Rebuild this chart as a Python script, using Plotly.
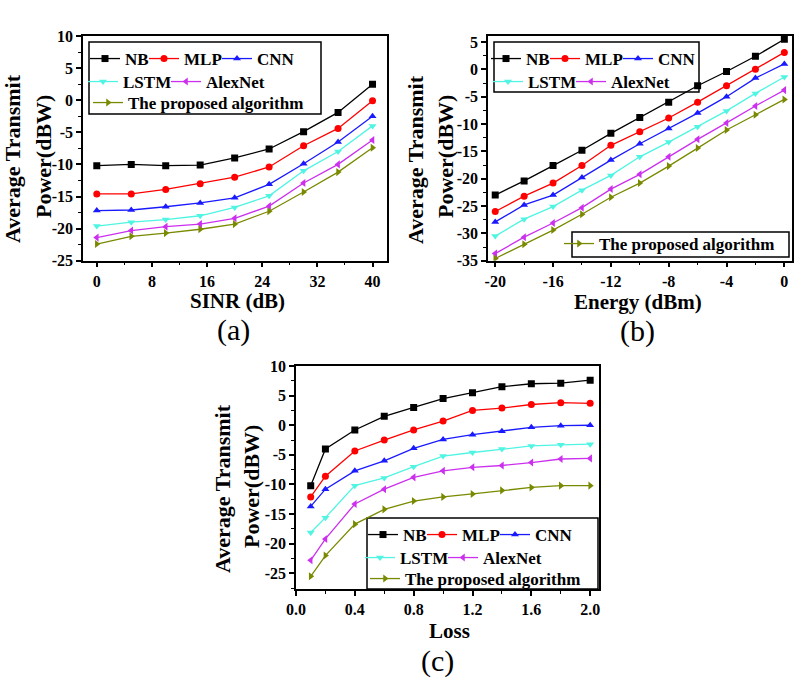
import plotly.graph_objects as go

W, H = 812, 679

# ---------------- data ----------------
series_names = ["NB", "MLP", "CNN", "LSTM", "AlexNet", "The proposed algorithm"]

# Panel (a): SINR (dB)
sinr = [0, 5, 10, 15, 20, 25, 30, 35, 40]
a_nb = [-10.2, -10.0, -10.2, -10.1, -9.0, -7.6, -4.9, -1.9, 2.5]
a_mlp = [-14.6, -14.6, -13.9, -13.0, -12.0, -10.4, -7.1, -4.4, -0.1]
a_cnn = [-17.2, -17.1, -16.6, -16.0, -15.2, -13.1, -9.9, -6.5, -2.5]
a_lstm = [-19.6, -19.0, -18.6, -18.0, -16.7, -14.9, -11.0, -8.0, -4.0]
a_alex = [-21.4, -20.3, -19.7, -19.3, -18.4, -16.5, -12.9, -10.0, -6.2]
a_prop = [-22.4, -21.2, -20.7, -20.1, -19.3, -17.3, -14.3, -11.2, -7.4]

# Panel (b): Energy (dBm)
energy = [-20, -18, -16, -14, -12, -10, -8, -6, -4, -2, 0]
b_nb = [-23.0, -20.4, -17.6, -14.8, -11.7, -8.8, -6.0, -3.0, -0.4, 2.4, 5.5]
b_mlp = [-26.0, -23.2, -20.8, -17.6, -13.9, -11.4, -8.9, -6.0, -3.0, 0.0, 3.1]
b_cnn = [-27.9, -24.8, -23.0, -19.8, -16.6, -13.6, -10.8, -8.0, -5.0, -1.6, 1.0]
b_lstm = [-30.5, -27.4, -25.1, -22.1, -19.4, -16.0, -13.3, -10.5, -7.6, -4.4, -1.4]
b_alex = [-33.7, -30.7, -28.1, -25.3, -21.9, -19.2, -16.0, -12.8, -9.8, -6.7, -3.8]
b_prop = [-34.6, -32.0, -29.4, -26.5, -23.4, -20.8, -17.7, -14.4, -11.1, -8.3, -5.5]

# Panel (c): Loss
loss = [0.1, 0.2, 0.4, 0.6, 0.8, 1.0, 1.2, 1.4, 1.6, 1.8, 2.0]
c_nb = [-10.2, -4.0, -0.8, 1.5, 3.0, 4.5, 5.5, 6.5, 7.0, 7.1, 7.6]
c_mlp = [-12.1, -8.6, -4.35, -2.5, -0.8, 0.7, 2.5, 2.9, 3.5, 3.8, 3.7]
c_cnn = [-13.7, -10.8, -7.7, -6.0, -3.9, -2.4, -1.6, -1.0, -0.35, -0.07, 0.0]
c_lstm = [-18.1, -15.6, -10.2, -8.9, -7.0, -5.2, -4.6, -4.0, -3.5, -3.3, -3.2]
c_alex = [-22.8, -19.2, -13.3, -10.8, -8.8, -7.7, -7.1, -6.8, -6.3, -5.7, -5.6]
c_prop = [-25.5, -22.0, -16.7, -14.2, -12.8, -12.1, -11.6, -11.0, -10.5, -10.2, -10.2]

# tick labels
a_xticks = [0, 8, 16, 24, 32, 40]
a_xticklabels = ["0", "8", "16", "24", "32", "40"]
a_yticks = [10, 5, 0, -5, -10, -15, -20, -25]
a_yticklabels = ["10", "5", "0", "-5", "-10", "-15", "-20", "-25"]
b_xticks = [-20, -16, -12, -8, -4, 0]
b_xticklabels = ["-20", "-16", "-12", "-8", "-4", "0"]
b_yticks = [5, 0, -5, -10, -15, -20, -25, -30, -35]
b_yticklabels = ["5", "0", "-5", "-10", "-15", "-20", "-25", "-30", "-35"]
c_xticks = [0.0, 0.4, 0.8, 1.2, 1.6, 2.0]
c_xticklabels = ["0.0", "0.4", "0.8", "1.2", "1.6", "2.0"]
c_yticks = [10, 5, 0, -5, -10, -15, -20, -25]
c_yticklabels = ["10", "5", "0", "-5", "-10", "-15", "-20", "-25"]

# ---------------- styles ----------------
colors = ["#000000", "#ff0000", "#1a1aff", "#4ff5e2", "#cc30ee", "#7a8a00"]
symbols = ["square", "circle", "triangle-up", "triangle-down", "triangle-left", "triangle-right"]
SERIF = "Liberation Serif, Times New Roman, serif"


def px(x):
    return x / W


def py(y):
    return 1 - y / H


# legend entry positions (text start x, row y) in pixels, per panel and series
legend_layout = [
    [(125, 59), (184, 59), (257, 59), (123, 82), (206, 82), (128, 103)],
    [(526, 59), (585, 59), (658, 59), (528, 82), (611, 82), (599, 244)],
    [(403, 535), (462, 535), (535, 535), (400, 558), (483, 558), (405, 579)],
]

fig = go.Figure()

panels = [
    ("x", "y", sinr, [a_nb, a_mlp, a_cnn, a_lstm, a_alex, a_prop]),
    ("x2", "y2", energy, [b_nb, b_mlp, b_cnn, b_lstm, b_alex, b_prop]),
    ("x3", "y3", loss, [c_nb, c_mlp, c_cnn, c_lstm, c_alex, c_prop]),
]
legfont = dict(family=SERIF, size=17, color="black", weight="bold")
leg_counter = 0
legend_defs = {}
for p, (xa, ya, xs, ys_list) in enumerate(panels):
    for i, ys in enumerate(ys_list):
        leg_counter += 1
        lname = "legend" if leg_counter == 1 else "legend%d" % leg_counter
        tx, ty = legend_layout[p][i]
        legend_defs[lname] = dict(
            x=px(tx - 40), y=py(ty), xanchor="left", yanchor="middle",
            orientation="h", bgcolor="rgba(0,0,0,0)", borderwidth=0,
            font=legfont, itemwidth=30, visible=True,
        )
        fig.add_trace(go.Scatter(
            x=xs, y=ys, mode="lines+markers", name=series_names[i],
            xaxis=xa, yaxis=ya, legend=lname, showlegend=True,
            line=dict(color=colors[i], width=1.3),
            marker=dict(symbol=symbols[i], size=7, color=colors[i]),
        ))

tickfont = dict(family=SERIF, size=16, color="black", weight="bold")


def axis_style(domain, rng, tickvals, ticktext, minor_dtick, anchor):
    return dict(
        domain=domain, range=rng, anchor=anchor,
        tickmode="array", tickvals=tickvals, ticktext=ticktext,
        showline=True, linecolor="black", linewidth=1.5, mirror=True,
        ticks="outside", ticklen=5, tickwidth=1.5, tickcolor="black",
        minor=dict(ticks="outside", ticklen=3, tickwidth=1.2, tickcolor="black", dtick=minor_dtick, showgrid=False),
        showgrid=False, zeroline=False, tickfont=tickfont, automargin=False,
    )


def right_ticks(rng, tickvals, overlay, anchor):
    return dict(
        overlaying=overlay, anchor=anchor, side="right", range=rng,
        tickmode="array", tickvals=tickvals, showticklabels=False,
        ticks="inside", ticklen=5, tickwidth=1.5, tickcolor="black",
        minor=dict(ticks="inside", ticklen=3, tickwidth=1.2, tickcolor="black", dtick=2.5, showgrid=False),
        showline=False, showgrid=False, zeroline=False, automargin=False,
    )


fig.update_layout(
    xaxis=axis_style([px(83), px(387)], [-2, 42.1], a_xticks, a_xticklabels, 4, "y"),
    yaxis=axis_style([py(260.7), py(36)], [-25, 10], a_yticks, a_yticklabels, 2.5, "x"),
    xaxis2=axis_style([px(488), px(792)], [-20.5, 0.53], b_xticks, b_xticklabels, 2, "y2"),
    yaxis2=axis_style([py(260.7), py(36)], [-35, 6.1], b_yticks, b_yticklabels, 2.5, "x2"),
    xaxis3=axis_style([px(296), px(599)], [0, 2.06], c_xticks, c_xticklabels, 0.2, "y3"),
    yaxis3=axis_style([py(589.3), py(366)], [-27.7, 10], c_yticks, c_yticklabels, 2.5, "x3"),
    yaxis4=right_ticks([-25, 10], a_yticks, "y", "x"),
    yaxis5=right_ticks([-35, 6.1], b_yticks, "y2", "x2"),
    yaxis6=right_ticks([-27.7, 10], c_yticks, "y3", "x3"),
)
fig.update_layout(legend_defs)

# legend frames
boxes = [(89, 42, 321, 114), (494, 42, 699, 92), (572, 232, 789, 257), (367, 518, 598, 589)]
shapes = []
for x0, y0, x1, y1 in boxes:
    shapes.append(dict(type="rect", xref="paper", yref="paper",
                       x0=px(x0), x1=px(x1), y0=py(y1), y1=py(y0),
                       line=dict(color="black", width=1.5), fillcolor="white", layer="below"))

titlefont = dict(family=SERIF, size=22, color="black", weight="bold")
xtitlefont = dict(family=SERIF, size=21, color="black", weight="bold")
capfont = dict(family=SERIF, size=30, color="black")
ann_specs = [
    ("Average Transmit", 12, 159, -90, titlefont),
    ("Power(dBW)", 43, 157, -90, titlefont),
    ("SINR (dB)", 237, 301, 0, xtitlefont),
    ("(a)", 233, 330, 0, capfont),
    ("Average Transmit", 415, 160, -90, titlefont),
    ("Power(dBW)", 445, 157, -90, titlefont),
    ("Energy (dBm)", 638, 302, 0, xtitlefont),
    ("(b)", 637, 331, 0, capfont),
    ("Average Transmit", 222, 489, -90, titlefont),
    ("Power(dBW)", 251, 487, -90, titlefont),
    ("Loss", 449, 631, 0, xtitlefont),
    ("(c)", 438, 661, 0, capfont),
]
annotations = []
for text, ax_, ay_, ang, f in ann_specs:
    annotations.append(dict(text=text, x=px(ax_), y=py(ay_), xref="paper", yref="paper",
                            xanchor="center", yanchor="middle", showarrow=False,
                            textangle=ang, font=f))

fig.update_layout(
    width=W, height=H, margin=dict(l=0, r=0, t=0, b=0, pad=0, autoexpand=False),
    paper_bgcolor="white", plot_bgcolor="white", showlegend=True,
    shapes=shapes, annotations=annotations,
)

fig.write_html("out.html", config={"displayModeBar": False},
               post_script="document.body.style.margin='0px';")
